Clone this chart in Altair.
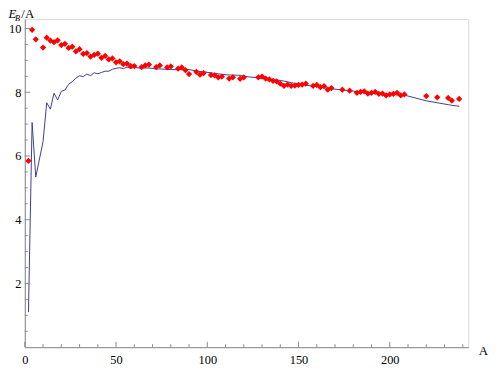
import altair as alt
import pandas as pd

# Mass number A (even nuclides)
A = [2, 4, 6, 10, 12, 14, 16, 18, 20, 22, 24, 26, 28, 30, 32, 34, 36, 38, 40, 42,
     44, 46, 48, 50, 52, 54, 56, 58, 60, 64, 66, 68, 72, 74, 78, 80, 84, 86, 88, 90,
     94, 96, 98, 102, 104, 106, 108, 112, 114, 118, 120, 128, 130, 132, 134, 136, 138, 140, 142, 144,
     146, 148, 150, 152, 154, 158, 160, 162, 164, 166, 168, 174, 178, 182, 184, 186, 188, 190, 192, 194,
     196, 198, 200, 202, 204, 206, 208, 220, 226, 232, 234, 238]

# red diamonds (formula values)
theory = [5.85, 9.96, 9.66, 9.40, 9.71, 9.62, 9.57, 9.63, 9.48, 9.52, 9.39, 9.43, 9.28, 9.35, 9.20, 9.23, 9.12, 9.17, 9.21, 9.08,
          9.14, 9.03, 9.06, 8.94, 8.97, 8.88, 8.90, 8.82, 8.82, 8.79, 8.84, 8.87, 8.79, 8.84, 8.78, 8.81, 8.74, 8.78, 8.69, 8.57,
          8.64, 8.55, 8.60, 8.54, 8.53, 8.47, 8.49, 8.43, 8.47, 8.42, 8.47, 8.47, 8.49, 8.43, 8.40, 8.36, 8.34, 8.27, 8.20, 8.24,
          8.20, 8.21, 8.23, 8.24, 8.27, 8.20, 8.23, 8.16, 8.19, 8.08, 8.13, 8.08, 8.05, 7.98, 8.01, 8.03, 7.96, 7.98, 8.01, 7.95,
          7.96, 7.90, 7.93, 7.95, 7.98, 7.90, 7.93, 7.88, 7.84, 7.82, 7.74, 7.79]

# blue line (measured values)
measured = [1.10, 7.05, 5.34, 6.45, 7.67, 7.47, 7.97, 7.76, 8.03, 8.07, 8.25, 8.33, 8.44, 8.52, 8.49, 8.57, 8.52, 8.61, 8.58, 8.62,
            8.66, 8.66, 8.72, 8.75, 8.77, 8.74, 8.79, 8.75, 8.78, 8.75, 8.76, 8.76, 8.73, 8.73, 8.72, 8.71, 8.71, 8.71, 8.72, 8.71,
            8.67, 8.65, 8.64, 8.61, 8.59, 8.58, 8.56, 8.54, 8.54, 8.53, 8.50, 8.45, 8.43, 8.42, 8.40, 8.39, 8.38, 8.37, 8.35, 8.33,
            8.30, 8.28, 8.26, 8.24, 8.22, 8.19, 8.18, 8.16, 8.14, 8.13, 8.11, 8.07, 8.05, 8.02, 8.01, 8.00, 7.99, 7.98, 7.97, 7.96,
            7.95, 7.94, 7.95, 7.94, 7.93, 7.92, 7.91, 7.73, 7.67, 7.61, 7.59, 7.56]

x_labels = [0, 50, 100, 150, 200]
x_minor = [10, 20, 30, 40, 60, 70, 80, 90, 110, 120, 130, 140, 160, 170, 180, 190, 210, 220, 230, 240]
y_labels = [2, 4, 6, 8, 10]
y_minor = [0.5, 1, 1.5, 2.5, 3, 3.5, 4.5, 5, 5.5, 6.5, 7, 7.5, 8.5, 9, 9.5]

LEFT = 17
W, H = 448.5, 332
AXIS_COLOR = "#8a8a8a"
FONT = "Liberation Serif, Times New Roman, serif"

df = pd.DataFrame({"A": A, "theory": theory, "measured": measured})
xs = alt.Scale(domain=[0, 243], nice=False, zero=False)
ys = alt.Scale(domain=[0, 10.3], nice=False, zero=False)

xaxis = alt.Axis(values=x_labels, ticks=False, tickSize=0, grid=False, domainColor=AXIS_COLOR, title=None,
                 labelFont=FONT, labelFontSize=12.5, labelColor="black", labelPadding=7, labelFlush=False)
yaxis = alt.Axis(values=y_labels, ticks=False, tickSize=0, grid=False, domainColor=AXIS_COLOR, title=None,
                 labelFont=FONT, labelFontSize=12.5, labelColor="black", labelPadding=4, labelFlush=False)

line = alt.Chart(df).mark_line(color="#3D3D99", strokeWidth=1).encode(
    x=alt.X("A:Q", scale=xs, axis=xaxis, title=None),
    y=alt.Y("measured:Q", scale=ys, axis=yaxis, title=None),
)

pts = alt.Chart(df).mark_point(shape="diamond", filled=True, color="#ff0000", size=40, opacity=1).encode(
    x=alt.X("A:Q", scale=xs, axis=xaxis, title=None),
    y=alt.Y("theory:Q", scale=ys, axis=yaxis, title=None),
)

def xticks(vals, L):
    d = pd.DataFrame({"A": vals})
    return alt.Chart(d).mark_rule(color=AXIS_COLOR, strokeWidth=1).encode(
        x=alt.X("A:Q", scale=xs, axis=xaxis, title=None), y=alt.value(H), y2=alt.value(H - L))

def yticks(vals, L):
    d = pd.DataFrame({"measured": vals})
    return alt.Chart(d).mark_rule(color=AXIS_COLOR, strokeWidth=1).encode(
        y=alt.Y("measured:Q", scale=ys, axis=yaxis, title=None), x=alt.value(0), x2=alt.value(L))

def label(s, x, y, size=13, style="normal"):
    return alt.Chart(pd.DataFrame({"s": [s]})).mark_text(
        font=FONT, fontSize=size, fontStyle=style, align="left", baseline="alphabetic", color="black"
    ).encode(text="s:N", x=alt.value(x), y=alt.value(y))

ox = 8 + LEFT  # plot origin on page
oy = 17
tE = label("E", 8.5 - ox, 16.5 - oy, 13, "italic")
tB = label("B", 15.2 - ox, 19 - oy, 8.5, "italic")
tA = label("/A", 21.5 - ox, 16.5 - oy, 13)
tX = label("A", 484 - ox, 357 - oy, 13)

chart = alt.layer(
    line, pts,
    xticks(x_labels, 5.5), xticks(x_minor, 3),
    yticks(y_labels, 5.5), yticks(y_minor, 3),
    tE, tB, tA, tX,
).properties(
    width=W, height=H,
    autosize=alt.AutoSizeParams(type="none"),
    padding={"left": LEFT, "top": 9, "right": 22, "bottom": 20},
).configure_view(stroke=None).configure(background="white")

chart.save("out.html", embed_options={"renderer": "svg", "actions": False})
